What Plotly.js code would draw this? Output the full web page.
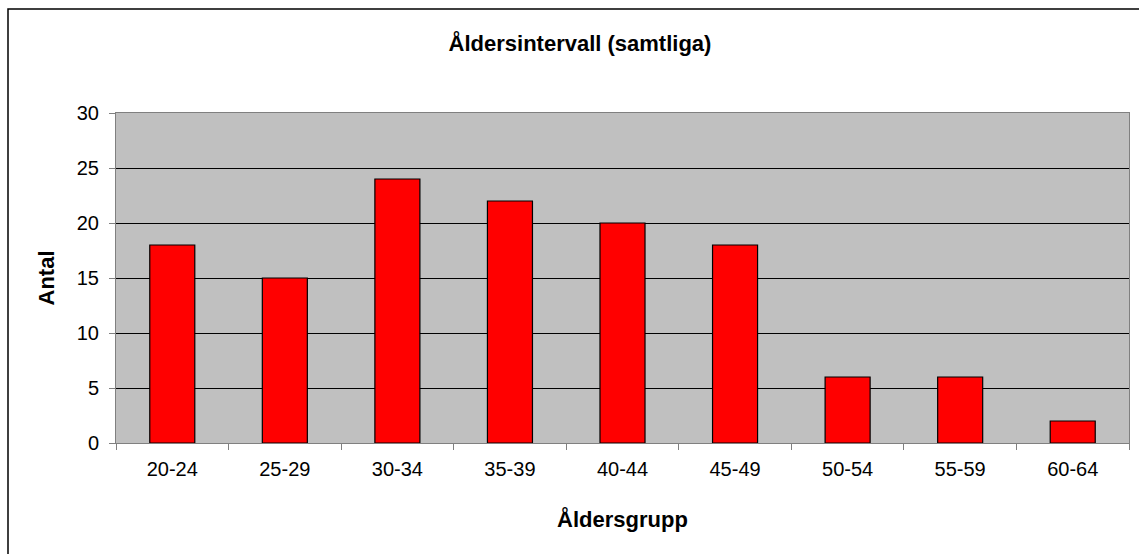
<!DOCTYPE html>
<html><head><meta charset="utf-8">
<script src="https://cdn.plot.ly/plotly-3.0.1.min.js"></script>
<style>html,body{margin:0;padding:0;background:#fff}#chart{width:1139px;height:554px}</style>
</head><body><div id="chart"></div>
<script>
const categories = ["20-24","25-29","30-34","35-39","40-44","45-49","50-54","55-59","60-64"];
const antal = [18,15,24,22,20,18,6,6,2];
const yTicks = [0,5,10,15,20,25,30];

const font = "Arial, 'Liberation Sans', sans-serif";
const trace = {
  type: "bar", x: categories, y: antal,
  marker: {color: "#FF0000", line: {color: "#000000", width: 1.2}},
  hoverinfo: "x+y"
};
const layout = {
  width: 1139, height: 554,
  margin: {l: 116, r: 10, t: 113, b: 111},
  paper_bgcolor: "#ffffff", plot_bgcolor: "#C0C0C0",
  bargap: 0.6,
  showlegend: false,
  font: {family: font, size: 20, color: "#000"},
  title: {text: "<b>Åldersintervall (samtliga)</b>", font: {family: font, size: 22, color: "#000"},
          x: 580/1139, xref: "container", xanchor: "center", y: 1 - 43/554, yanchor: "middle"},
  xaxis: {
    type: "category", tickson: "boundaries", ticks: "outside", ticklen: 6, tickcolor: "#808080", tickwidth: 1,
    showline: true, linecolor: "#808080", linewidth: 1, mirror: true, showgrid: false,
    tickfont: {family: font, size: 20}, ticklabelstandoff: 8,
    title: {text: "<b>Åldersgrupp</b>", font: {family: font, size: 22}, standoff: 32}
  },
  yaxis: {
    range: [0, 30], tickvals: yTicks, ticks: "outside", ticklen: 6, tickcolor: "#808080", tickwidth: 1,
    showline: true, linecolor: "#808080", linewidth: 1, mirror: true,
    showgrid: true, gridcolor: "#000000", gridwidth: 1, zeroline: false,
    tickfont: {family: font, size: 20}, ticklabelstandoff: 6,
    title: {text: "<b>Antal</b>", font: {family: font, size: 22}, standoff: 16}
  },
  shapes: [
    {type: "rect", xref: "paper", yref: "paper", x0: -108/1013, x1: 1.2, y0: -0.5, y1: 1 + 104/330,
     line: {color: "#000", width: 1.5}, fillcolor: "rgba(0,0,0,0)", layer: "below"}
  ]
};
Plotly.newPlot("chart", [trace], layout, {displayModeBar: false, staticPlot: true});
</script></body></html>
